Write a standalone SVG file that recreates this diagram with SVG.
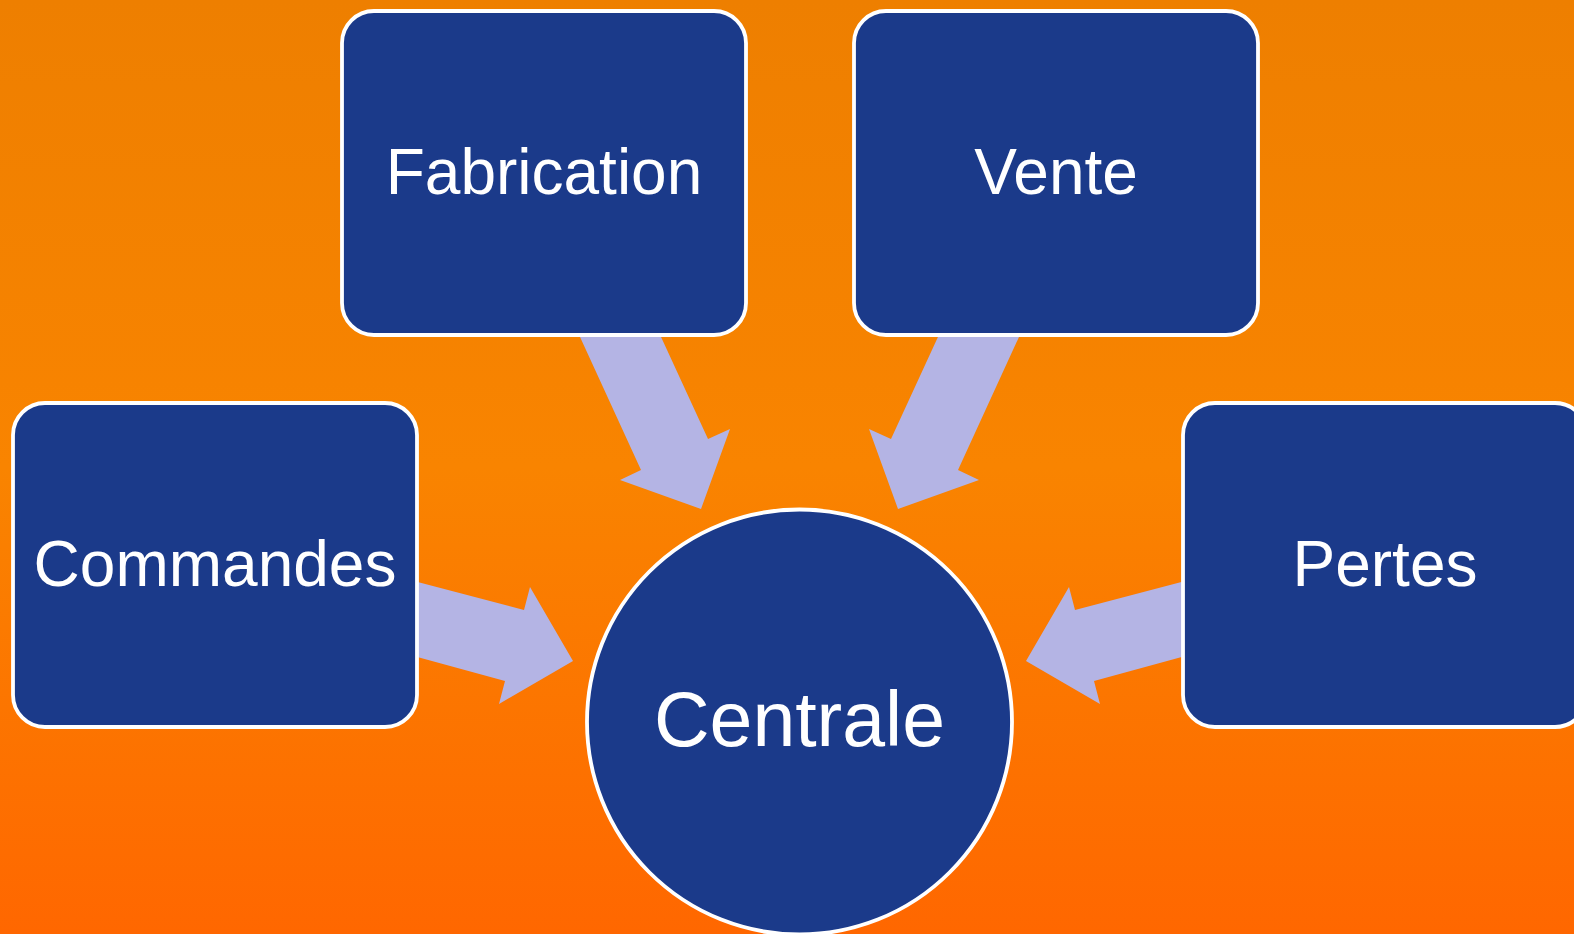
<svg xmlns="http://www.w3.org/2000/svg" width="1574" height="934" viewBox="0 0 1574 934">
<defs>
<linearGradient id="bg" x1="0" y1="0" x2="0" y2="1">
<stop offset="0" stop-color="#EE7F00"/>
<stop offset="0.5" stop-color="#F98400"/>
<stop offset="1" stop-color="#FF6700"/>
</linearGradient>
<style>
.box{fill:#1B3A8A;stroke:#FFFFFF;stroke-width:3.8}
.arrow{fill:#B4B4E4;stroke:none}
.lbl{font-family:"Liberation Sans",Arial,sans-serif;fill:#FFFFFF;text-anchor:middle}
</style>
</defs>
<rect x="0" y="0" width="1574" height="934" fill="url(#bg)"/>
<g id="connectors">
<polygon class="arrow" points="575,326 656,326 708,439 730,429 701,509 620,480 641,470"/>
<polygon class="arrow" points="1024,326 943,326 891,439 869,429 898,509 979,480 958,470"/>
<polygon class="arrow" points="410,580 524,610 530,587 573,661 499,704 505,681 410,655"/>
<polygon class="arrow" points="1189,580 1075,610 1069,587 1026,661 1100,704 1094,681 1189,655"/>
</g>
<g id="fabrication">
<rect class="box" x="342" y="11" width="404" height="324" rx="32" ry="32"/>
<text class="lbl" x="544" y="194" font-size="64">Fabrication</text>
</g>
<g id="vente">
<rect class="box" x="854" y="11" width="404" height="324" rx="32" ry="32"/>
<text class="lbl" x="1056" y="194" font-size="64">Vente</text>
</g>
<g id="commandes">
<rect class="box" x="13" y="403" width="404" height="324" rx="32" ry="32"/>
<text class="lbl" x="215" y="586" font-size="64">Commandes</text>
</g>
<g id="pertes">
<rect class="box" x="1183" y="403" width="404" height="324" rx="32" ry="32"/>
<text class="lbl" x="1385" y="586" font-size="64">Pertes</text>
</g>
<g id="centrale">
<circle class="box" cx="799.5" cy="722" r="212.5"/>
<text class="lbl" x="799.5" y="746" font-size="77">Centrale</text>
</g>
</svg>
